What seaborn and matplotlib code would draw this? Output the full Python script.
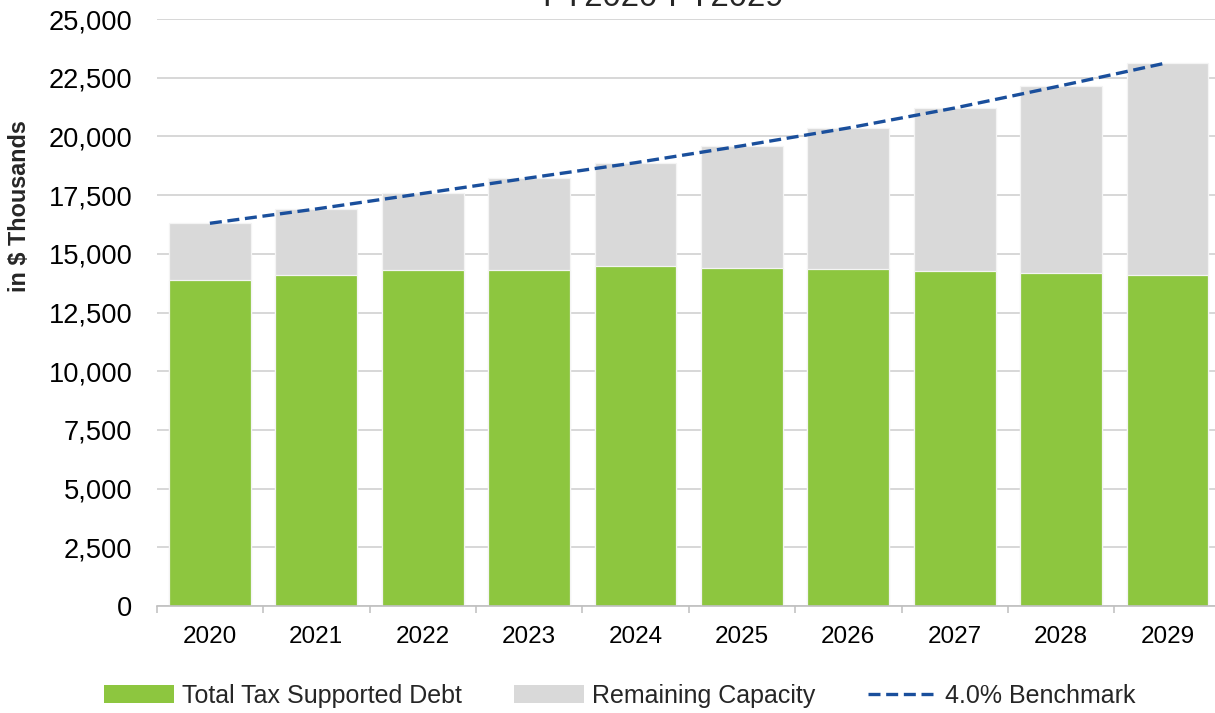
import numpy as np
import matplotlib
matplotlib.use("Agg")
import matplotlib.pyplot as plt
from matplotlib.patches import Patch
from matplotlib.lines import Line2D
from matplotlib.ticker import FuncFormatter, FixedLocator
import seaborn as sns

# Fiscal years and debt capacity figures (in $ thousands)
years = ["2020", "2021", "2022", "2023", "2024", "2025", "2026", "2027", "2028", "2029"]
tax_supported_debt = [13880, 14100, 14290, 14320, 14490, 14410, 14360, 14280, 14190, 14110]
remaining_capacity = [2420, 2810, 3280, 3910, 4390, 5190, 6000, 6930, 7970, 9030]
benchmark = [16300, 16910, 17570, 18230, 18880, 19600, 20360, 21210, 22160, 23140]

y_ticks = list(range(0, 25001, 2500))

GREEN = "#8DC63F"
GRAY = "#D9D9D9"
BLUE = "#1A4F9C"
AXIS_GRAY = "#BFBFBF"

sns.set_theme(style="white")
plt.rcParams["font.family"] = ["Liberation Sans", "DejaVu Sans"]

fig = plt.figure(figsize=(12.15, 7.13), dpi=100)
W, H = 1215, 713
ax = fig.add_axes([156.7 / W, 1 - 606 / H, (1220.7 - 156.7) / W, (606 - 19) / H])

totals = np.array(tax_supported_debt) + np.array(remaining_capacity)

# Stacked bars: full height (debt + remaining) in gray, debt overlaid in green
sns.barplot(x=years, y=totals, color=GRAY, width=0.77, saturation=1,
            edgecolor="#F4F4F4", linewidth=0.9, errorbar=None, ax=ax, zorder=2)
sns.barplot(x=years, y=tax_supported_debt, color=GREEN, width=0.77, saturation=1,
            edgecolor="#F4F4F4", linewidth=0.9, errorbar=None, ax=ax, zorder=3)

# Benchmark line through bar centres
sns.lineplot(x=np.arange(len(years)), y=benchmark, color=BLUE, linewidth=2.4,
             linestyle=(0, (3.6, 1.7)), ax=ax, zorder=4)

ax.set_xlim(-0.5, len(years) - 0.5)
ax.set_ylim(0, 25000)
ax.set_yticks(y_ticks)
ax.yaxis.set_major_formatter(FuncFormatter(lambda v, p: f"{int(v):,}"))
ax.set_xlabel("")
ax.set_ylabel("")

ax.yaxis.grid(True, color="#D4D4D4", linewidth=1.3)
ax.xaxis.grid(False)
ax.set_axisbelow(True)

for side in ("top", "right", "left"):
    ax.spines[side].set_visible(False)
ax.spines["bottom"].set_color(AXIS_GRAY)
ax.spines["bottom"].set_linewidth(1.2)
ax.spines["bottom"].set_zorder(5)

ax.tick_params(axis="y", length=0, pad=17.5, labelsize=19.6, labelcolor="black")
ax.tick_params(axis="x", which="major", length=0, pad=14.5, labelsize=17.5, labelcolor="black")
ax.xaxis.set_minor_locator(FixedLocator(np.arange(-0.5, len(years), 1.0)))
ax.tick_params(axis="x", which="minor", bottom=True, length=5, width=1.1,
               color=AXIS_GRAY, direction="out")

fig.text(20 / W, 1 - 206 / H, "in $ Thousands", rotation=90, ha="center", va="center",
         fontsize=16.8, fontweight="bold")
fig.text(663 / W, 1 - 6 / H, "FY2020-FY2029", ha="center", va="baseline", fontsize=23.8)

handles = [
    Patch(facecolor=GREEN, edgecolor="none"),
    Patch(facecolor=GRAY, edgecolor="none"),
    Line2D([0], [0], color=BLUE, linewidth=2.4, linestyle=(0, (3.6, 1.7))),
]
labels = ["Total Tax Supported Debt", "Remaining Capacity", "4.0% Benchmark"]
fig.legend(handles, labels, loc="center", bbox_to_anchor=(620 / W, 1 - 696 / H),
           ncol=3, frameon=False, fontsize=18, handlelength=2.8, handleheight=0.73,
           handletextpad=0.3, columnspacing=2.1, borderpad=0, borderaxespad=0)

fig.savefig("out.png", dpi=100)
